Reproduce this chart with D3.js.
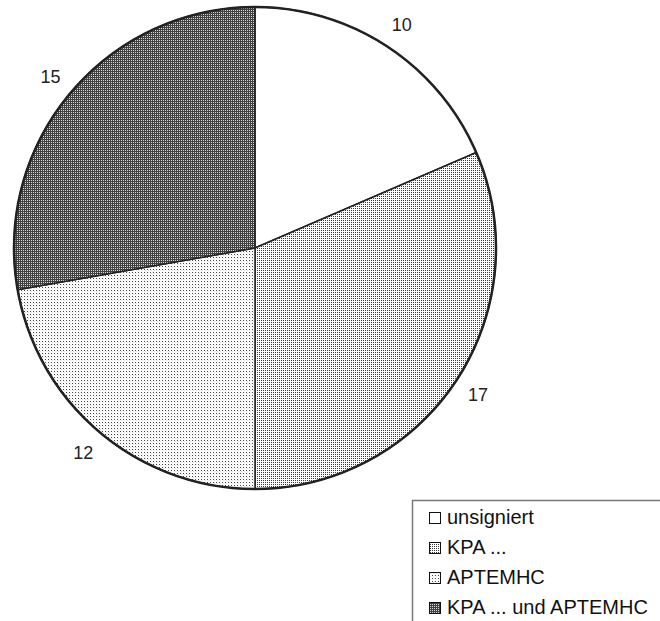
<!DOCTYPE html>
<html><head><meta charset="utf-8">
<script src="https://cdn.jsdelivr.net/npm/d3@7"></script>
<style>html,body{margin:0;padding:0;background:#fff;}svg{display:block;}</style>
</head><body>
<svg id="c" width="660" height="621"></svg>
<script>
const categories = ["unsigniert", "KPA ...", "APTEMHC", "KPA ... und APTEMHC"];
const values = [10, 17, 12, 15];
const patternIds = ["pNone", "pKpa", "pApt", "pBoth"];

const svg = d3.select("#c");
const defs = svg.append("defs");
const pNone = defs.append("pattern").attr("id","pNone").attr("patternUnits","userSpaceOnUse").attr("width",2).attr("height",2);
pNone.append("rect").attr("width",2).attr("height",2).attr("fill","#fff");
const pKpa = defs.append("pattern").attr("id","pKpa").attr("patternUnits","userSpaceOnUse").attr("width",2).attr("height",2);
pKpa.append("rect").attr("width",2).attr("height",2).attr("fill","#fff");
pKpa.append("rect").attr("width",1).attr("height",1).attr("fill","#3a3a3a");
const pApt = defs.append("pattern").attr("id","pApt").attr("patternUnits","userSpaceOnUse").attr("width",3).attr("height",3);
pApt.append("rect").attr("width",3).attr("height",3).attr("fill","#fff");
pApt.append("rect").attr("width",1).attr("height",1).attr("fill","#444");
pApt.append("rect").attr("x",1).attr("y",1).attr("width",1).attr("height",1).attr("fill","#e4e4e4");
const pBoth = defs.append("pattern").attr("id","pBoth").attr("patternUnits","userSpaceOnUse").attr("width",2).attr("height",2);
pBoth.append("rect").attr("width",2).attr("height",2).attr("fill","#404040");
pBoth.append("rect").attr("width",1).attr("height",1).attr("fill","#d8d8d8");

const cx = 255, cy = 248, R = 241, labelR = 267;
const pie = d3.pie().sort(null).value(d => d.v);
const data = categories.map((c,i)=>({c, v: values[i], p: patternIds[i]}));
const arcs = pie(data);
const arc = d3.arc().innerRadius(0).outerRadius(R);
const g = svg.append("g").attr("transform",`translate(${cx},${cy})`);
g.selectAll("path.s").data(arcs).join("path").attr("class","s")
  .attr("d", arc).attr("fill", d => `url(#${d.data.p})`)
  .attr("stroke","#222").attr("stroke-width",1.5).attr("stroke-linejoin","round");
g.append("circle").attr("r",R).attr("fill","none").attr("stroke","#222").attr("stroke-width",2.5);

const lab = d3.arc().innerRadius(labelR).outerRadius(labelR);
g.selectAll("text.l").data(arcs).join("text").attr("class","l")
  .attr("transform", d => `translate(${lab.centroid(d)})`)
  .attr("text-anchor","middle").attr("dy","0.35em")
  .attr("font-family","Liberation Sans, Arial, sans-serif").attr("font-size",18).attr("fill","#222")
  .text(d => d.data.v);

const lg = svg.append("g");
lg.append("rect").attr("x",412.5).attr("y",500.5).attr("width",260).attr("height",140)
  .attr("fill","#fff").attr("stroke","#777").attr("stroke-width",1.5);
const rowY = d3.scalePoint().domain(categories).range([524, 614]);
const items = lg.selectAll("g.it").data(data).join("g").attr("class","it")
  .attr("transform", d => `translate(0,${rowY(d.c)})`);
items.append("rect").attr("x",429.5).attr("y",-11.5).attr("width",11).attr("height",11)
  .attr("fill", d => `url(#${d.p})`).attr("stroke","#111").attr("stroke-width",1);
items.append("text").attr("x",447).attr("y",0)
  .attr("font-family","Liberation Sans, Arial, sans-serif").attr("font-size",20).attr("fill","#111")
  .text(d => d.c);
</script>
</body></html>
